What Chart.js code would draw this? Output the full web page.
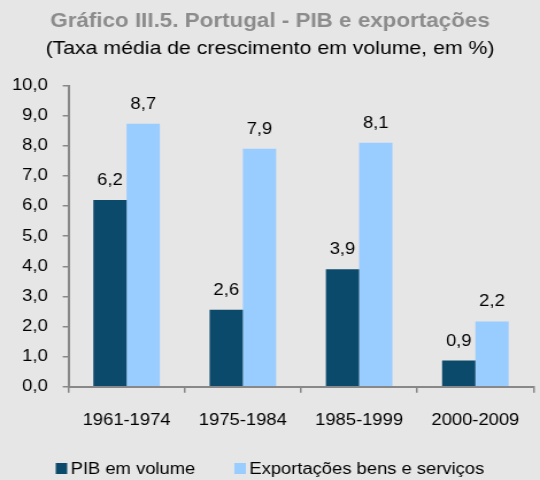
<!DOCTYPE html>
<html>
<head>
<meta charset="utf-8">
<script src="https://cdn.jsdelivr.net/npm/chart.js@4"></script>
<style>
  html, body { margin: 0; padding: 0; background: #e6e6e6; }
</style>
</head>
<body>
<canvas id="c" width="470" height="480" style="display:block;width:540px;height:480px;"></canvas>
<script>
const categories = ['1961-1974', '1975-1984', '1985-1999', '2000-2009'];
const pibVolume = [6.2, 2.56, 3.9, 0.87];
const exportacoes = [8.73, 7.9, 8.1, 2.17];
const seriesNames = ['PIB em volume', 'Exportações bens e serviços'];
const titleText = 'Gráfico III.5. Portugal - PIB e exportações';
const subtitleText = '(Taxa média de crescimento em volume, em %)';
const yTickMin = 0, yTickMax = 10, yTickStep = 1;

const FONT = '"Liberation Sans", Arial, sans-serif';
const fmt = v => (Math.round(v * 10) / 10).toFixed(1).replace('.', ',');

const bgPlugin = {
  id: 'bg',
  beforeDraw(chart) {
    const ctx = chart.ctx;
    ctx.save();
    ctx.fillStyle = '#e6e6e6';
    ctx.fillRect(0, 0, chart.width, chart.height);
    ctx.restore();
  }
};

const valueLabels = {
  id: 'valueLabels',
  afterDatasetsDraw(chart) {
    const ctx = chart.ctx;
    ctx.save();
    ctx.font = '16px ' + FONT;
    ctx.fillStyle = '#000';
    ctx.textAlign = 'center';
    ctx.textBaseline = 'alphabetic';
    chart.data.datasets.forEach((ds, i) => {
      chart.getDatasetMeta(i).data.forEach((el, j) => {
        ctx.fillText(fmt(ds.data[j]), el.x, el.y - 15);
      });
    });
    ctx.restore();
  }
};

const customLegend = {
  id: 'customLegend',
  afterDraw(chart) {
    const ctx = chart.ctx;
    ctx.save();
    ctx.font = '16px ' + FONT;
    ctx.textBaseline = 'alphabetic';
    ctx.textAlign = 'left';
    const boxW = 10, boxH = 11, gapText = 3, gapItem = 34;
    const items = chart.data.datasets.map(ds => ({
      label: ds.label, color: ds.backgroundColor, w: ctx.measureText(ds.label).width
    }));
    let total = 0;
    items.forEach((it, i) => { total += boxW + gapText + it.w + (i < items.length - 1 ? gapItem : 0); });
    let x = chart.width / 2 - total / 2;
    const baseline = 474;
    items.forEach(it => {
      ctx.fillStyle = it.color;
      ctx.fillRect(x, baseline - boxH, boxW, boxH);
      x += boxW + gapText;
      ctx.fillStyle = '#000';
      ctx.fillText(it.label, x, baseline);
      x += it.w + gapItem;
    });
    ctx.restore();
  }
};

new Chart(document.getElementById('c'), {
  type: 'bar',
  data: {
    labels: categories,
    datasets: [
      { label: seriesNames[0], data: pibVolume, backgroundColor: '#0b4a6b', borderWidth: 0 },
      { label: seriesNames[1], data: exportacoes, backgroundColor: '#99ccff', borderWidth: 0 }
    ]
  },
  options: {
    responsive: false,
    devicePixelRatio: 1,
    animation: false,
    datasets: { bar: { categoryPercentage: 0.572, barPercentage: 1.0 } },
    layout: { padding: { left: 0, right: 0, top: 0, bottom: 32 } },
    plugins: {
      legend: { display: false },
      tooltip: { enabled: false },
      title: {
        display: true, text: titleText, color: '#8c8c8c',
        font: { family: FONT, size: 19.5, weight: 'bold' },
        padding: { top: 10, bottom: 4.5 }
      },
      subtitle: {
        display: true, text: subtitleText, color: '#000',
        font: { family: FONT, size: 18.5 },
        padding: { top: 0, bottom: 25.4 }
      }
    },
    scales: {
      x: {
        grid: { display: true, drawOnChartArea: false, drawTicks: true, tickLength: 6, color: '#888', lineWidth: 1.5, offset: true },
        border: { display: true, color: '#888', width: 2 },
        ticks: { color: '#000', font: { family: FONT, size: 16 }, padding: 18 }
      },
      y: {
        min: yTickMin, max: yTickMax,
        afterFit(scale) { scale.width = 59.6; },
        grid: { display: true, drawOnChartArea: false, drawTicks: true, tickLength: 5, color: '#888', lineWidth: 1.5 },
        border: { display: true, color: '#888', width: 2 },
        ticks: { stepSize: yTickStep, color: '#000', font: { family: FONT, size: 16 }, padding: 13, callback: v => fmt(v) }
      }
    }
  },
  plugins: [bgPlugin, valueLabels, customLegend]
});
</script>
</body>
</html>
